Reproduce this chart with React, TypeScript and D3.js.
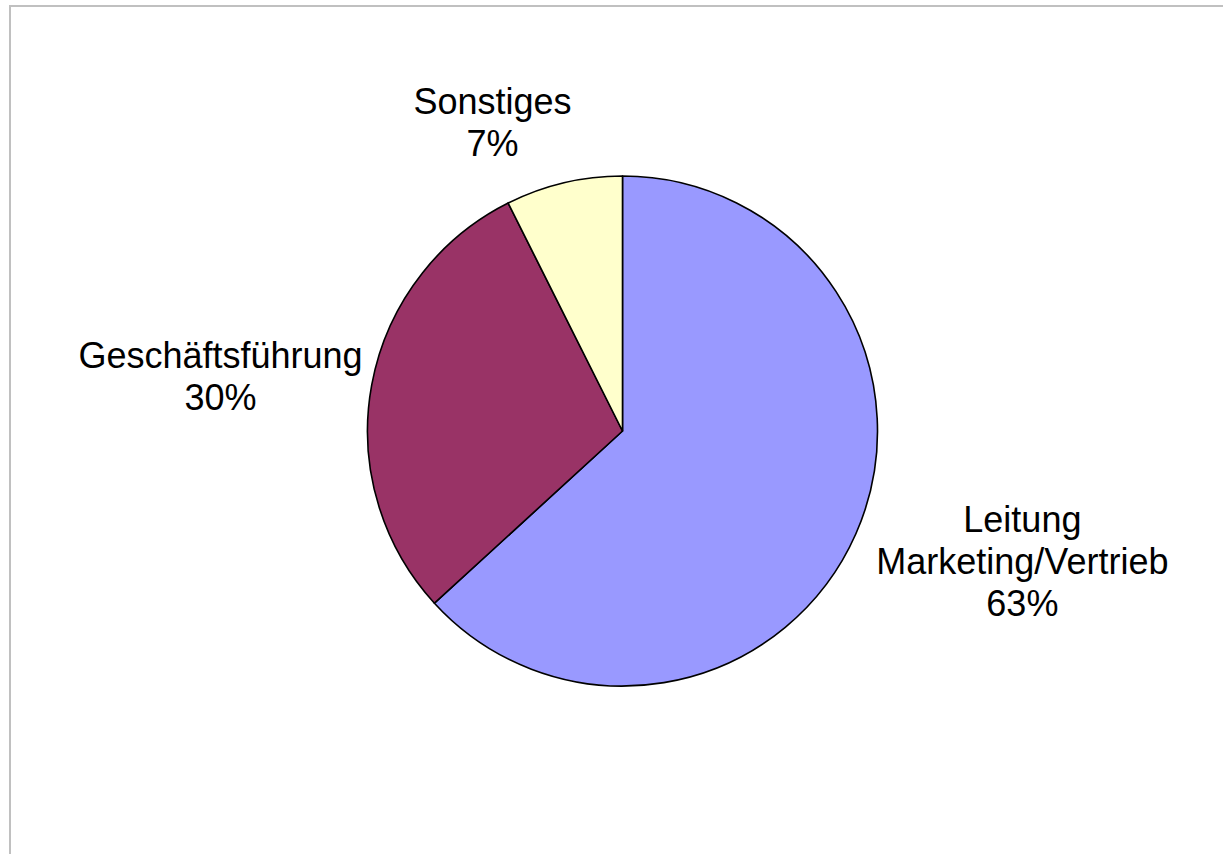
import React from "react";
import * as d3 from "d3";

// ---- data ----
const categories: string[] = ["Leitung Marketing/Vertrieb", "Geschäftsführung", "Sonstiges"];
const labelLines: string[][] = [["Leitung", "Marketing/Vertrieb", "63%"], ["Geschäftsführung", "30%"], ["Sonstiges", "7%"]];
const values: number[] = [63.2, 29.4, 7.4];

// ---- styles / layout ----
const colors: string[] = ["#9999FF", "#993366", "#FFFFCC"];
// label placement in polar terms relative to pie centre (angle in degrees clockwise from top, distance in px)
const labelAngle: number[] = [108.1, 277.7, 337.15];
const labelDist: number[] = [420.7, 405.7, 334.8];

const W = 1223;
const H = 854;
const CX = 622.5;
const CY = 431;
const R = 255;
const FONT = 36;
const LINE = 42;
const CAP = 25.5;

export default function App() {
  const pie = d3.pie<number>().sort(null).value((d) => d).startAngle(0).endAngle(2 * Math.PI);
  const arcs = pie(values);
  const arcGen = d3.arc<d3.PieArcDatum<number>>().innerRadius(0).outerRadius(R);

  return (
    <svg
      width={W}
      height={H}
      style={{ position: "absolute", left: 0, top: 0, background: "#fff" }}
      fontFamily="'Liberation Sans', Arial, sans-serif"
    >
      <rect x={0} y={0} width={W} height={H} fill="#ffffff" />
      <rect x={10} y={6} width={W + 50} height={H + 50} fill="none" stroke="#c0c0c0" strokeWidth={2} />
      <g transform={`translate(${CX},${CY})`}>
        {arcs.map((a, i) => (
          <path key={categories[i]} d={arcGen(a) || ""} fill={colors[i]} stroke="#000" strokeWidth={1.6} strokeLinejoin="round" />
        ))}
        {arcs.map((a, i) => {
          const t = (labelAngle[i] * Math.PI) / 180;
          const x = labelDist[i] * Math.sin(t);
          const yMid = -labelDist[i] * Math.cos(t);
          const lines = labelLines[i];
          const firstBase = yMid - ((lines.length - 1) * LINE) / 2 + CAP / 2;
          return (
            <text key={"l" + i} x={x} y={firstBase} fontSize={FONT} textAnchor="middle" fill="#000">
              {lines.map((ln, j) => (
                <tspan key={j} x={x} y={firstBase + j * LINE}>
                  {ln}
                </tspan>
              ))}
            </text>
          );
        })}
      </g>
    </svg>
  );
}
